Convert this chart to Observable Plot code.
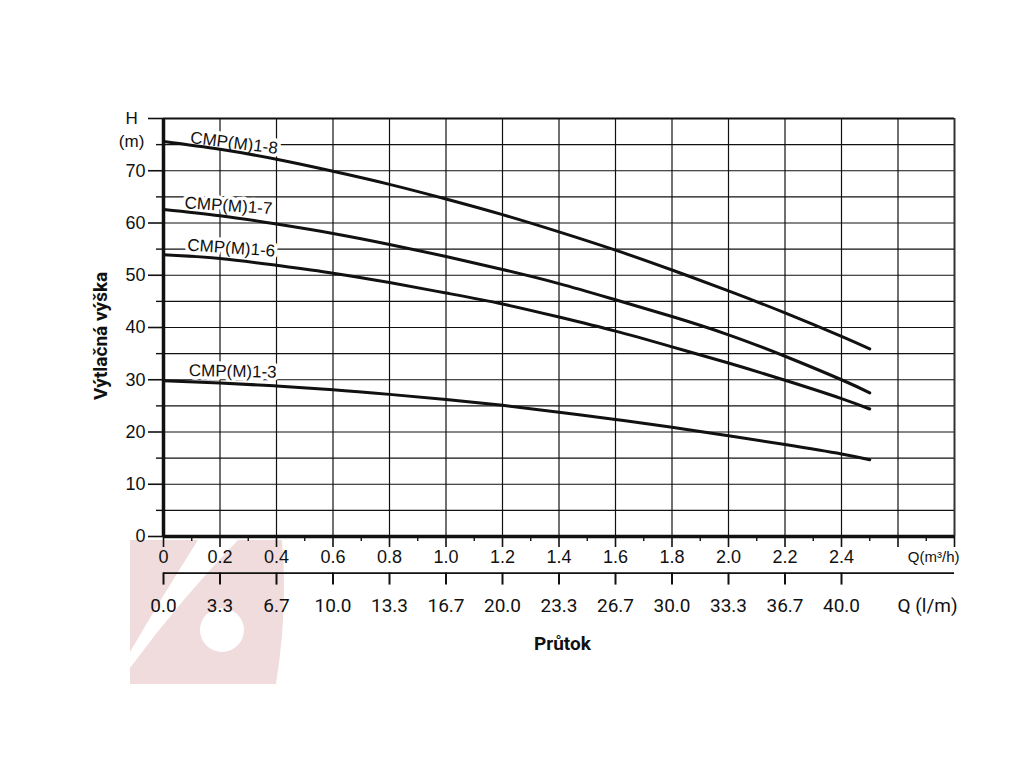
<!DOCTYPE html>
<html><head><meta charset="utf-8">
<script src="https://cdn.jsdelivr.net/npm/d3@7"></script>
<script src="https://cdn.jsdelivr.net/npm/@observablehq/plot@0.6"></script>
<style>
html,body{margin:0;padding:0;background:#fff;}
#wrap{position:relative;width:1024px;height:768px;overflow:hidden;}
#wm{position:absolute;left:0;top:0;}
#chart{position:absolute;left:0;top:0;}
</style></head><body>
<div id="wrap">
<svg id="wm" width="1024" height="768">
  <g fill="#f0dcdc">
    <path d="M130,540 L198,540 Q160,600 130,652 Z"/>
    <path d="M238,540 L282,540 Q288,610 276,684 L130,684 L130,668 Q180,600 238,540 Z"/>
  </g>
  <circle cx="222" cy="630" r="22" fill="#fff"/>
</svg>
<div id="chart"></div>
</div>
<script>
// ---- data ----
const flow = [0, 0.2, 0.4, 0.6, 0.8, 1.0, 1.2, 1.4, 1.6, 1.8, 2.0, 2.2, 2.4, 2.5];
const head_1_8 = [75.6, 74.1, 72.2, 69.9, 67.4, 64.6, 61.6, 58.3, 54.8, 51.0, 47.0, 42.8, 38.3, 35.9];
const head_1_7 = [62.6, 61.4, 59.8, 58.0, 55.9, 53.6, 51.1, 48.4, 45.3, 42.1, 38.6, 34.5, 30.0, 27.5];
const head_1_6 = [53.9, 53.2, 51.9, 50.4, 48.6, 46.6, 44.5, 42.0, 39.3, 36.3, 33.2, 29.9, 26.4, 24.4];
const head_1_3 = [29.8, 29.4, 28.8, 28.1, 27.2, 26.2, 25.1, 23.8, 22.4, 20.9, 19.3, 17.6, 15.8, 14.7];
const seriesNames = ["CMP(M)1-8", "CMP(M)1-7", "CMP(M)1-6", "CMP(M)1-3"];
const seriesHeads = [head_1_8, head_1_7, head_1_6, head_1_3];

const qTicks = [0, 0.2, 0.4, 0.6, 0.8, 1.0, 1.2, 1.4, 1.6, 1.8, 2.0, 2.2, 2.4, 2.6, 2.8];
const qMinorTicks = [0.1, 0.3, 0.5, 0.7, 0.9, 1.1, 1.3, 1.5, 1.7, 1.9, 2.1, 2.3, 2.5, 2.7];
const qLabels = ["0", "0.2", "0.4", "0.6", "0.8", "1.0", "1.2", "1.4", "1.6", "1.8", "2.0", "2.2", "2.4"];
const lpmLabels = ["0.0", "3.3", "6.7", "10.0", "13.3", "16.7", "20.0", "23.3", "26.7", "30.0", "33.3", "36.7", "40.0"];
const hTicks = [0, 10, 20, 30, 40, 50, 60, 70, 80];
const hLabels = ["0", "10", "20", "30", "40", "50", "60", "70", ""];
const hMinorTicks = [5, 15, 25, 35, 45, 55, 65, 75];
const hGrid = [5, 10, 15, 20, 25, 30, 35, 40, 45, 50, 55, 60, 65, 70, 75];

// annotation placement (not data)
const curveLabelPlacement = [
  {q: 0.25, h: 75.3, rot: 7},
  {q: 0.23, h: 63.3, rot: 4},
  {q: 0.24, h: 55.2, rot: 4},
  {q: 0.245, h: 31.6, rot: 1}
];

// ---- build rows ----
const rows = [];
seriesNames.forEach((name, s) => {
  flow.forEach((q, i) => rows.push({series: name, q, h: seriesHeads[s][i]}));
});
const curveLabels = seriesNames.map((name, s) => ({name, ...curveLabelPlacement[s]}));
const lpmRows = lpmLabels.map((label, i) => ({q: qTicks[i], label}));

const ink = "#111";
const F = "'Liberation Sans', Arial, Helvetica, sans-serif";
const R = "Roboto, 'Liberation Sans', sans-serif";

const chart = Plot.plot({
  width: 1024, height: 768,
  marginLeft: 163, marginRight: 70, marginTop: 118, marginBottom: 232,
  style: {background: "transparent", fontFamily: F, fontSize: "18px", color: ink, overflow: "visible"},
  x: {domain: [0, 2.8], label: null},
  y: {domain: [0, 80], label: null},
  marks: [
    Plot.gridY(hGrid, {stroke: ink, strokeOpacity: 1, strokeWidth: 1.2}),
    Plot.gridX(qTicks.slice(1, -1), {stroke: ink, strokeOpacity: 1, strokeWidth: 1.2}),
    Plot.ruleY([80], {stroke: ink, strokeWidth: 2}),
    Plot.ruleX([2.8], {stroke: "#333", strokeWidth: 2}),
    Plot.axisY(hTicks, {tickSize: 15, tickPadding: 3, strokeWidth: 1.6, stroke: ink,
      tickFormat: d => hLabels[hTicks.indexOf(d)], fontSize: 18, label: null}),
    Plot.axisY(hMinorTicks, {tickSize: 7, strokeWidth: 1.4, stroke: ink, tickFormat: () => "", label: null}),
    Plot.axisX(qTicks, {tickSize: 11, tickPadding: 3, strokeWidth: 1.6, stroke: ink,
      tickFormat: d => qLabels[qTicks.indexOf(d)] ?? "", fontSize: 18, label: null}),
    Plot.axisX(qMinorTicks, {tickSize: 5, strokeWidth: 1.4, stroke: ink, tickFormat: () => "", label: null}),
    // secondary (l/m) axis
    Plot.ruleY([-7], {stroke: ink, strokeWidth: 1.6}),
    Plot.ruleX(lpmRows, {x: "q", y1: -7, y2: -9.3, stroke: ink, strokeWidth: 2}),
    Plot.text(lpmRows, {x: "q", y: -13.3, text: "label", fontFamily: R, fontSize: 19, fill: ink}),
    Plot.text(["Q(m³/h)"], {x: 2.8, y: -4, dx: 5, textAnchor: "end", fontSize: 15, fill: ink}),
    Plot.text(["Q (l/m)"], {x: 2.8, y: -13.3, dx: 3, textAnchor: "end", fontFamily: R, fontSize: 19, fill: ink}),
    Plot.text(["Průtok"], {x: 1.412, y: -20.5, fontFamily: R, fontWeight: "bold", fontSize: 19, fill: ink}),
    Plot.text(["Výtlačná výška"], {x: -0.223, y: 38.4, rotate: -90, fontFamily: R, fontWeight: "bold", fontSize: 19, fill: ink}),
    Plot.text(["H"], {x: -0.113, y: 80, fontSize: 17, fill: ink}),
    Plot.text(["(m)"], {x: -0.113, y: 75.6, fontSize: 17, fill: ink}),
    // curve labels with white halo over gridlines
    Plot.text(curveLabels, {x: "q", y: "h", text: "name", rotate: "rot", fontSize: 17, fill: ink,
      stroke: "white", strokeWidth: 7}),
    // pump curves
    Plot.line(rows, {x: "q", y: "h", z: "series", stroke: ink, strokeWidth: 3, curve: "natural"}),
    // frame axes
    Plot.ruleX([0], {stroke: ink, strokeWidth: 3.5}),
    Plot.ruleY([0], {stroke: ink, strokeWidth: 3.5})
  ]
});
document.getElementById("chart").appendChild(chart);
</script>
</body></html>
